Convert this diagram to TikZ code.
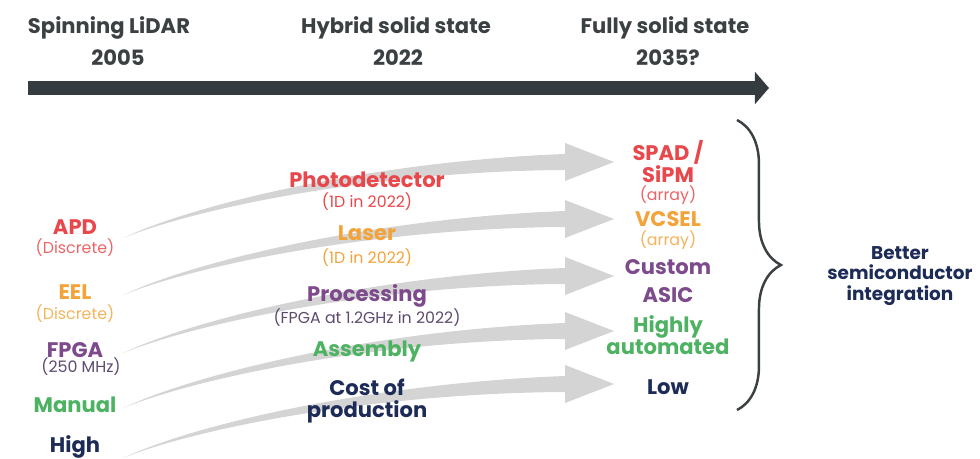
\documentclass[tikz,border=0pt]{standalone}
\usepackage{fontspec}
\setmainfont{Poppins}
\usetikzlibrary{arrows.meta}
\usetikzlibrary{calc}
\usetikzlibrary{decorations.pathreplacing}
\definecolor{headgray}{HTML}{3B4043}
\definecolor{linegray}{HTML}{353C40}
\definecolor{arrowgray}{HTML}{D4D4D4}
\definecolor{lidred}{HTML}{E8474B}
\definecolor{lidredlt}{HTML}{EC6466}
\definecolor{lidorange}{HTML}{F2A33A}
\definecolor{lidorangelt}{HTML}{F3B35A}
\definecolor{lidpurple}{HTML}{7D4A8C}
\definecolor{lidpurpledk}{HTML}{5E4A6E}
\definecolor{lidgreen}{HTML}{4DB262}
\definecolor{lidnavy}{HTML}{1D2B57}
\tikzset{era/.style={text=headgray, inner sep = 0pt, font=\fontsize{12}{14}\selectfont\bfseries},
  item/.style={inner sep = 0pt, align = center, font=\fontsize{12}{12.5}\selectfont\bfseries},
  note/.style={inner sep = 0pt, font=\fontsize{9}{10}\selectfont},
  flowarrow/.style={fill=arrowgray}}

\begin{document}
\begin{tikzpicture}[x=0.02cm, y=-0.02cm]
  \useasboundingbox (0,0) rectangle (980,459);

  % timeline
  \node[era] (spin) at (109,28) {Spinning LiDAR};
  \node[era] (spinyear) at (118,58) {2005};
  \node[era] (hybrid) at (396,28) {Hybrid solid state};
  \node[era] (hybridyear) at (398,58) {2022};
  \node[era] (fully) at (665,28) {Fully solid state};
  \node[era] (fullyyear) at (668,58) {2035?};
  \coordinate (tl0) at (28,88);
  \coordinate (tl1) at (769,88);
  \draw[linegray, line width=8.5pt, -{Triangle[length=8pt, width=18pt]}] (tl0) -- (tl1);

  % gray flow arrows
  \foreach \i/\ys/\ye in {1/238/162, 2/295/219, 3/353/276, 4/408/331, 5/458/384}{
    \coordinate (s\i) at (123,\ys);
    \coordinate (e\i) at (614,\ye);
    \fill[flowarrow] (s\i) .. controls ($(s\i)+(77,-36)$) and ($(e\i)+(-234,-1)$) .. ($(e\i)+(-49,-8)$)
      -- ($(e\i)+(-49,-19)$) -- (e\i) -- ($(e\i)+(-49,19)$) -- ($(e\i)+(-49,8)$)
      .. controls ($(e\i)+(-234,9)$) and ($(s\i)+(77,-31)$) .. (s\i) -- cycle;
  }

  % before
  \node[item, text=lidred] (apd) at (75,227) {APD};
  \node[note, text=lidredlt] (apdnote) at (75,248) {(Discrete)};
  \node[item, text=lidorange] (eel) at (75,292) {EEL};
  \node[note, text=lidorangelt] (eelnote) at (75,314) {(Discrete)};
  \node[item, text=lidpurple] (fpga) at (75,350) {FPGA};
  \node[note, text=lidpurpledk] (fpganote) at (81,367) {(250 MHz)};
  \node[item, text=lidgreen] (manual) at (75,405) {Manual};
  \node[item, text=lidnavy] (high) at (75,447) {High};

  % now
  \node[item, text=lidred] (photo) at (367,180) {Photodetector};
  \node[note, text=lidred] (photonote) at (367,202) {(1D in 2022)};
  \node[item, text=lidorange] (laser) at (367,233) {Laser};
  \node[note, text=lidorange] (lasernote) at (367,258) {(1D in 2022)};
  \node[item, text=lidpurple] (proc) at (367,296) {Processing};
  \node[note, text=lidpurpledk] (procnote) at (367,318) {(FPGA at 1.2GHz in 2022)};
  \node[item, text=lidgreen] (assembly) at (367,351) {Assembly};
  \node[item, text=lidnavy] (cost) at (367,401) {Cost of\\production};

  % later
  \node[item, text=lidred] (spad) at (668,162) {SPAD /\\SiPM};
  \node[note, text=lidredlt] (spadnote) at (668,195) {(array)};
  \node[item, text=lidorange] (vcsel) at (668,219) {VCSEL};
  \node[note, text=lidorangelt] (vcselnote) at (668,240) {(array)};
  \node[item, text=lidpurple] (asic) at (668,281) {Custom\\[3pt]ASIC};
  \node[item, text=lidgreen] (auto) at (668,335) {Highly\\automated};
  \node[item, text=lidnavy] (low) at (668,387) {Low};

  % brace
  \coordinate (br0) at (737,120);
  \coordinate (br1) at (737,410);
  \draw[headgray, line width=1.4pt, decorate, decoration={brace, amplitude=25pt}] (br0) -- (br1);
  \node[item, text=lidnavy, font=\fontsize{10.5}{11.7}\selectfont\bfseries] (better) at (900,276) {Better\\semiconductor\\integration};
\end{tikzpicture}
\end{document}
